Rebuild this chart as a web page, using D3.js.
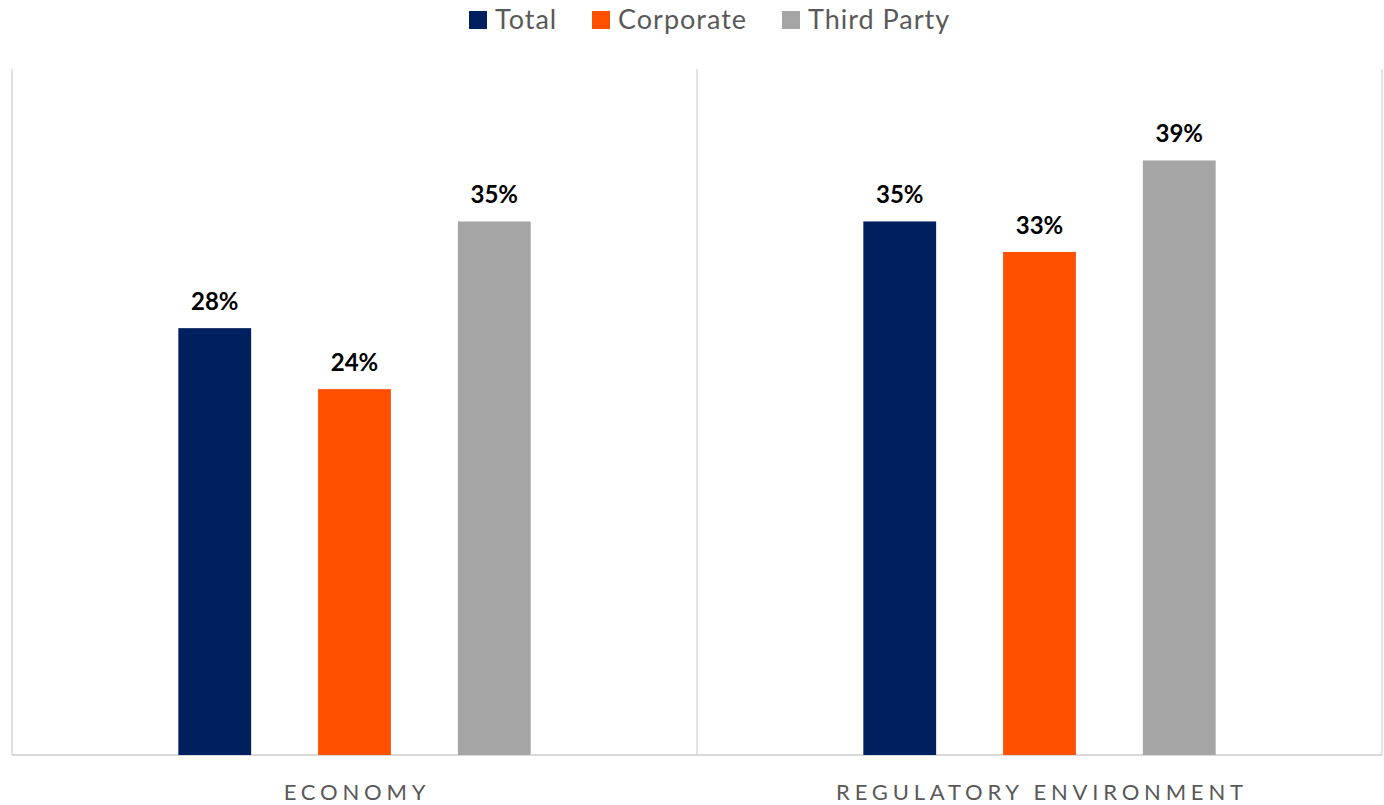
<!DOCTYPE html>
<html>
<head>
<meta charset="utf-8">
<script src="https://cdn.jsdelivr.net/npm/d3@7"></script>
<style>
  html, body { margin: 0; padding: 0; background: #fff; }
  svg { display: block; font-family: Lato, "Open Sans", sans-serif; }
</style>
</head>
<body>
<svg id="chart" width="1384" height="805"></svg>
<script>
// Share of respondents by concern, split by respondent type
const categories = ["ECONOMY", "REGULATORY ENVIRONMENT"];
const seriesNames = ["Total", "Corporate", "Third Party"];
const seriesColors = ["#001f5f", "#ff5000", "#a5a5a5"];
const totalValues = [28, 35];
const corporateValues = [24, 33];
const thirdPartyValues = [35, 39];
const seriesValues = [totalValues, corporateValues, thirdPartyValues];

const svg = d3.select("#chart");
const plot = { left: 12, right: 1382, top: 69, bottom: 755 };

const x0 = d3.scaleBand()
  .domain(categories)
  .range([plot.left, plot.right])
  .paddingInner(0)
  .paddingOuter(0);

const x1 = d3.scaleBand()
  .domain(seriesNames)
  .range([0, x0.bandwidth()])
  .paddingInner(0.479)
  .paddingOuter(1.19);

const y = d3.scaleLinear()
  .domain([0, 45])
  .range([plot.bottom, plot.top]);

const gridColor = "#d9d9d9";

// category separators and frame
const bounds = [plot.left].concat(categories.map(c => x0(c) + x0.bandwidth()));
svg.append("g")
  .selectAll("line")
  .data(bounds)
  .join("line")
  .attr("x1", d => d).attr("x2", d => d)
  .attr("y1", plot.top).attr("y2", plot.bottom)
  .attr("stroke", gridColor)
  .attr("stroke-width", 1.5);

// baseline
svg.append("line")
  .attr("x1", plot.left).attr("x2", plot.right)
  .attr("y1", plot.bottom).attr("y2", plot.bottom)
  .attr("stroke", gridColor)
  .attr("stroke-width", 2);

// bars
const rows = [];
categories.forEach((c, ci) => {
  seriesNames.forEach((s, si) => {
    rows.push({ cat: c, series: s, value: seriesValues[si][ci], color: seriesColors[si] });
  });
});

const groups = svg.append("g")
  .selectAll("g")
  .data(rows)
  .join("g")
  .attr("transform", d => `translate(${x0(d.cat) + x1(d.series)},0)`);

groups.append("rect")
  .attr("x", 0)
  .attr("y", d => y(d.value))
  .attr("width", x1.bandwidth())
  .attr("height", d => y(0) - y(d.value))
  .attr("fill", d => d.color);

groups.append("text")
  .attr("x", x1.bandwidth() / 2)
  .attr("y", d => y(d.value) - 18)
  .attr("text-anchor", "middle")
  .attr("font-size", 24)
  .attr("font-weight", 700)
  .attr("fill", "#000")
  .text(d => d.value + "%");

// category axis labels
const xAxis = d3.axisBottom(x0).tickSize(0).tickPadding(0);
const axisG = svg.append("g")
  .attr("transform", `translate(0,${plot.bottom})`)
  .call(xAxis);
axisG.select(".domain").remove();
axisG.selectAll("text")
  .attr("dy", null)
  .attr("y", 45)
  .attr("dx", 2.4)
  .attr("font-family", "Lato, 'Open Sans', sans-serif")
  .attr("font-size", 22)
  .attr("letter-spacing", "4.8px")
  .attr("fill", "#595959");

// legend
const legendX = [469, 592, 782];
const legend = svg.append("g")
  .selectAll("g")
  .data(seriesNames)
  .join("g")
  .attr("transform", (d, i) => `translate(${legendX[i]},11)`);
legend.append("rect")
  .attr("width", 18).attr("height", 18)
  .attr("fill", (d, i) => seriesColors[i]);
legend.append("text")
  .attr("x", 26)
  .attr("y", 18)
  .attr("font-size", 27)
  .attr("letter-spacing", "1px")
  .attr("fill", "#595959")
  .text(d => d);
</script>
</body>
</html>
